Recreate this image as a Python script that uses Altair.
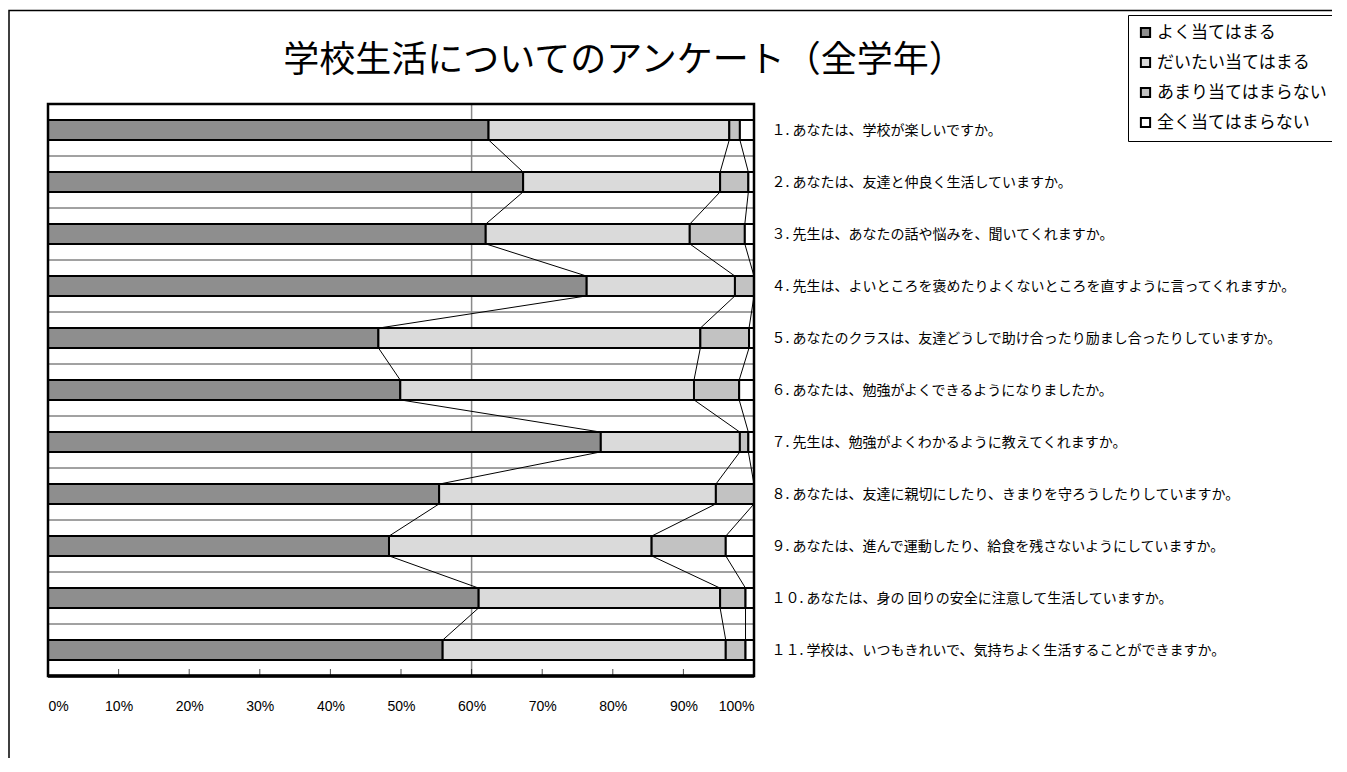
import json
import altair as alt
import pandas as pd

TITLE = "学校生活についてのアンケート（全学年）"

series_names = ["よく当てはまる", "だいたい当てはまる", "あまり当てはまらない", "全く当てはまらない"]
series_colors = ["#8e8e8e", "#dadada", "#c2c2c2", "#ffffff"]

questions = [
    "１. あなたは、学校が楽しいですか。",
    "２. あなたは、友達と仲良く生活していますか。",
    "３. 先生は、あなたの話や悩みを、聞いてくれますか。",
    "４. 先生は、よいところを褒めたりよくないところを直すように言ってくれますか。",
    "５. あなたのクラスは、友達どうしで助け合ったり励まし合ったりしていますか。",
    "６. あなたは、勉強がよくできるようになりましたか。",
    "７. 先生は、勉強がよくわかるように教えてくれますか。",
    "８. あなたは、友達に親切にしたり、きまりを守ろうしたりしていますか。",
    "９. あなたは、進んで運動したり、給食を残さないようにしていますか。",
    "１０. あなたは、身の 回りの安全に注意して生活していますか。",
    "１１. 学校は、いつもきれいで、気持ちよく生活することができますか。",
]

# percentages per question
yoku = [62.4, 67.3, 62.0, 76.3, 46.8, 49.9, 78.3, 55.4, 48.3, 61.0, 55.9]
daitai = [34.1, 27.9, 28.9, 21.0, 45.6, 41.6, 19.7, 39.2, 37.2, 34.2, 40.1]
amari = [1.5, 4.0, 7.8, 2.7, 6.9, 6.4, 1.2, 5.4, 10.5, 3.6, 2.8]
mattaku = [2.0, 0.8, 1.3, 0.0, 0.7, 2.1, 0.8, 0.0, 4.0, 1.2, 1.2]

x_ticks = [0, 10, 20, 30, 40, 50, 60, 70, 80, 90, 100]
ref_line = [60]

W, H = 706, 572
BAR_HALF = 0.19

series_values = [yoku, daitai, amari, mattaku]

# stacked segments
rows = []
cums = []
for i in range(len(questions)):
    start = 0.0
    row_cum = []
    for s, vals in zip(series_names, series_values):
        end = start + vals[i]
        if vals[i] > 0:
            rows.append({"idx": i, "series": s, "x0": start, "x1": end,
                         "y0": i - BAR_HALF, "y1": i + BAR_HALF, "value": vals[i]})
        row_cum.append(end)
        start = end
    cums.append(row_cum)
bars_df = pd.DataFrame(rows)

# series lines connecting boundaries of adjacent bars
lines = []
for i in range(len(questions) - 1):
    for k in range(3):
        lines.append({"xa": cums[i][k], "xb": cums[i + 1][k],
                      "ya": i + BAR_HALF, "yb": i + 1 - BAR_HALF})
lines_df = pd.DataFrame(lines)

grid_df = pd.DataFrame({"g": [i + 0.5 for i in range(len(questions) - 1)]})
ref_df = pd.DataFrame({"v": ref_line})
tick_df = pd.DataFrame({"t": x_ticks[1:-1]})
one_df = pd.DataFrame({"a": [0]})
title_df = pd.DataFrame({"text": [TITLE]})

label_expr = json.dumps(questions, ensure_ascii=False) + "[datum.value]"

x_scale = alt.Scale(domain=[0, 100], nice=False, zero=False)
y_scale = alt.Scale(domain=[-0.5, len(questions) - 0.5], reverse=True, nice=False, zero=False)

x_axis = alt.Axis(values=x_ticks, labelExpr="datum.value + '%'", title=None,
                  grid=False, domain=False, ticks=False, labelPadding=23,
                  labelFontSize=14, labelFont="Liberation Sans", labelColor="black")
y_axis = alt.Axis(orient="right", values=list(range(len(questions))), labelExpr=label_expr,
                  title=None, grid=False, domain=False, ticks=False, labelPadding=17,
                  labelFontSize=14, labelFont="Noto Sans CJK JP", labelColor="black",
                  labelLimit=800, labelAlign="left")

grid = alt.Chart(grid_df).mark_rule(color="#444444", strokeWidth=1).encode(
    y=alt.Y("g:Q", scale=y_scale, axis=y_axis)
)

ref = alt.Chart(ref_df).mark_rule(color="#8a8a8a", strokeWidth=1.5).encode(
    x=alt.X("v:Q", scale=x_scale, axis=x_axis)
)

bars = alt.Chart(bars_df).mark_rect(stroke="black", strokeWidth=2).encode(
    x=alt.X("x0:Q", scale=x_scale, axis=x_axis),
    x2="x1:Q",
    y=alt.Y("y0:Q", scale=y_scale, axis=y_axis),
    y2="y1:Q",
    fill=alt.Fill("series:N",
                  scale=alt.Scale(domain=series_names, range=series_colors),
                  sort=series_names,
                  legend=alt.Legend(orient="none", legendX=1080, legendY=-89, title=None,
                                    fillColor="white", strokeColor="black", padding=9,
                                    labelFontSize=17, labelFont="Noto Sans CJK JP",
                                    labelColor="black",
                                    symbolType="square", symbolSize=85, rowPadding=11,
                                    symbolStrokeColor="black", symbolStrokeWidth=2,
                                    labelOffset=3, labelLimit=400)),
)

series_lines = alt.Chart(lines_df).mark_rule(color="black", strokeWidth=1).encode(
    x=alt.X("xa:Q", scale=x_scale, axis=x_axis),
    x2="xb:Q",
    y=alt.Y("ya:Q", scale=y_scale, axis=y_axis),
    y2="yb:Q",
)

ticks = alt.Chart(tick_df).mark_tick(color="black", thickness=1, size=7).encode(
    x=alt.X("t:Q", scale=x_scale, axis=x_axis),
    y=alt.value(H - 3.5),
)

plot_border = alt.Chart(one_df).mark_rect(fillOpacity=0, stroke="black", strokeWidth=2.5).encode(
    x=alt.value(0), x2=alt.value(W), y=alt.value(0), y2=alt.value(H)
)

bottom_axis = alt.Chart(one_df).mark_rule(color="black", strokeWidth=3.5).encode(
    x=alt.value(0), x2=alt.value(W), y=alt.value(H)
)

frame = alt.Chart(one_df).mark_rect(fillOpacity=0, stroke="black", strokeWidth=1.5).encode(
    x=alt.value(-39), x2=alt.value(2000), y=alt.value(-93.5), y2=alt.value(2000)
)

title = alt.Chart(title_df).mark_text(fontSize=36, font="Noto Sans CJK JP", color="black",
                                      align="center", baseline="middle").encode(
    text="text:N", x=alt.value(576), y=alt.value(-43)
)

chart = alt.layer(grid, ref, bars, series_lines, ticks, plot_border, bottom_axis, frame, title).properties(
    width=W,
    height=H,
    autosize=alt.AutoSizeParams(type="none"),
    padding={"left": 40, "top": 96, "right": 578, "bottom": 82},
).configure_view(stroke=None).configure(background="white")

chart.save("out.html", embed_options={"renderer": "svg", "actions": False})
